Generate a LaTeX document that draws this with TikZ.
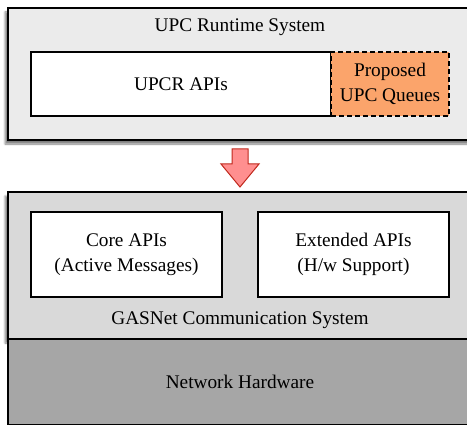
\documentclass[tikz,border=0pt]{standalone}
\usepackage{fontspec}
\setmainfont{Liberation Serif}
\usetikzlibrary{positioning,shadows.blur}
\definecolor{upcgray}{HTML}{EBEBEB}
\definecolor{netgray}{HTML}{D9D9D9}
\definecolor{hwgray}{HTML}{A6A6A6}
\definecolor{qorange}{HTML}{FBA46B}
\definecolor{arrowred}{HTML}{FF8F8F}
\definecolor{arrowedge}{HTML}{C0281C}

\begin{document}
\begin{tikzpicture}[x=1pt, y=1pt, line width=1.2pt,
  layer/.style={draw, rectangle, inner sep=0pt, minimum width=467pt,
    blur shadow={shadow xshift=-3pt, shadow yshift=-4pt, shadow blur steps=6, shadow opacity=50}},
  apibox/.style={draw, rectangle, fill=white, inner sep=0pt, align=center},
  txt/.style={font=\fontsize{19.3}{25}\selectfont}]
  \useasboundingbox (0,0) rectangle (467,-425);
  \clip (0,0) rectangle (467,-425);
  % Runtime layer
  \node[layer, fill=upcgray, minimum height=132pt] (runtime) at (241.5,-74) {};
  \node[txt] (runtimelbl) at (240,-27) {UPC Runtime System};
  \node[apibox, txt, minimum width=300pt, minimum height=64pt] (upcr) at (181,-84) {UPCR APIs};
  \node[apibox, txt, fill=qorange, dash pattern=on 5pt off 3pt, minimum width=118pt, minimum height=64pt] (queues) at (390,-84) {Proposed\\UPC Queues};

  % GASNet layer
  \node[layer, fill=netgray, minimum height=147pt] (gasnet) at (241.5,-265.5) {};
  \node[draw, rectangle, fill=hwgray, inner sep=0pt, minimum width=467pt, minimum height=85.5pt] (hardware) at (241.5,-381.75) {};
  \node[txt] (hwlbl) at (240,-382) {Network Hardware};
  \node[apibox, txt, minimum width=191pt, minimum height=85pt] (core) at (126.5,-254.5) {Core APIs\\(Active Messages)};
  \node[apibox, txt, minimum width=191pt, minimum height=85pt] (ext) at (353.5,-254.5) {Extended APIs\\(H/w Support)};
  \node[txt] (gasnetlbl) at (240,-320) {GASNet Communication System};

  % Block arrow between the layers
  \coordinate (flow) at (240,-149);
  \draw[draw=arrowedge, fill=arrowred, line width=1pt, line join=miter]
    (flow) ++(-8,0) -- ++(16,0) -- ++(0,-15) -- ++(11,0) -- (240,-187)
    -- (221,-164) -- ++(11,0) -- cycle;
\end{tikzpicture}
\end{document}
